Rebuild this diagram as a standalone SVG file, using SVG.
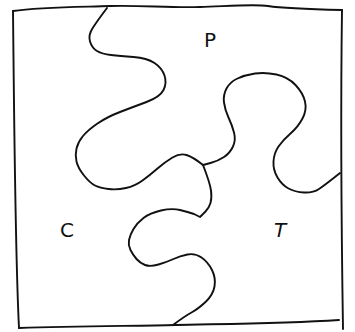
<svg xmlns="http://www.w3.org/2000/svg" width="355" height="332" viewBox="0 0 355 332">
<style>
.ln{fill:none;stroke:#111;stroke-width:1.9;stroke-linejoin:round;stroke-linecap:round}
.lb{font-family:"DejaVu Sans","Liberation Sans",sans-serif;font-size:20px;fill:#111}
</style>
<rect width="355" height="332" fill="#fff"/>
<g id="frame">
<path class="ln" d="M13,11 C40,7 80,7 110,6 S170,8 200,7 S255,4 268,6 S300,9 342,10"/>
<path class="ln" d="M342,10 C341,80 341,200 343,329"/>
<path class="ln" d="M19,328 C80,326 140,326 175,325 S280,324 339,320"/>
<path class="ln" d="M13,11 C14,100 15,250 19,328"/>
</g>
<g id="boundaries">
<path class="ln" d="M107,8 L102.5,14 Q98,20 93,27.5 Q88,35 90,41.5 Q92,48 97,51 Q102,54 111,55 Q120,56 133.5,57 Q147,58 154.5,63 Q162,68 164.5,75.5 Q167,83 163.5,90 Q160,97 146.5,102 Q133,107 120,112 Q107,117 97.5,123.5 Q88,130 83,136 Q78,142 76.5,148.5 Q75,155 76.5,161.5 Q78,168 84,175.5 Q90,183 95,185.5 Q100,188 108.5,189 Q117,190 126,188 Q135,186 142.5,180.5 Q150,175 157.5,168.5 Q165,162 172.5,157.5 Q180,153 186.5,155 Q193,157 203,165"/>
<path class="ln" d="M203,165 L210.5,163 Q218,161 224,157 Q230,153 233,146.5 Q236,140 234,132.5 Q232,125 228.5,117.5 Q225,110 224,102.5 Q223,95 226.5,88.5 Q230,82 237.5,78.5 Q245,75 255,73.5 Q265,72 276.5,74.5 Q288,77 295.5,85 Q303,93 305,101.5 Q307,110 302.5,118.5 Q298,127 290.5,133.5 Q283,140 278.5,146.5 Q274,153 273.5,161.5 Q273,170 277.5,177.5 Q282,185 288.5,188.5 Q295,192 304,192.5 Q313,193 319,189 Q325,185 340,173"/>
<path class="ln" d="M203,165 Q210,183 211,190.5 Q212,198 210.5,203 Q209,208 205.5,211.5 L202,215 L200,217 L194,214 Q188,212 180,210 Q172,208 161,210.5 Q150,213 143.5,218 Q137,223 133.5,229 Q130,235 129,240 Q128,245 130.5,250 Q133,255 136.5,259 Q140,263 145,265 Q150,267 158.5,264.5 Q167,262 173.5,259 Q180,256 187.5,254.5 Q195,253 201.5,257.5 Q208,262 212,270 Q216,278 214.5,286.5 Q213,295 205.5,302 Q198,309 191.5,312.5 Q185,316 173,325"/>
</g>
<g id="labels">
<text class="lb" x="204" y="47">P</text>
<text class="lb" x="60" y="237">C</text>
<text class="lb" x="274" y="237" font-style="italic">T</text>
</g>
</svg>
